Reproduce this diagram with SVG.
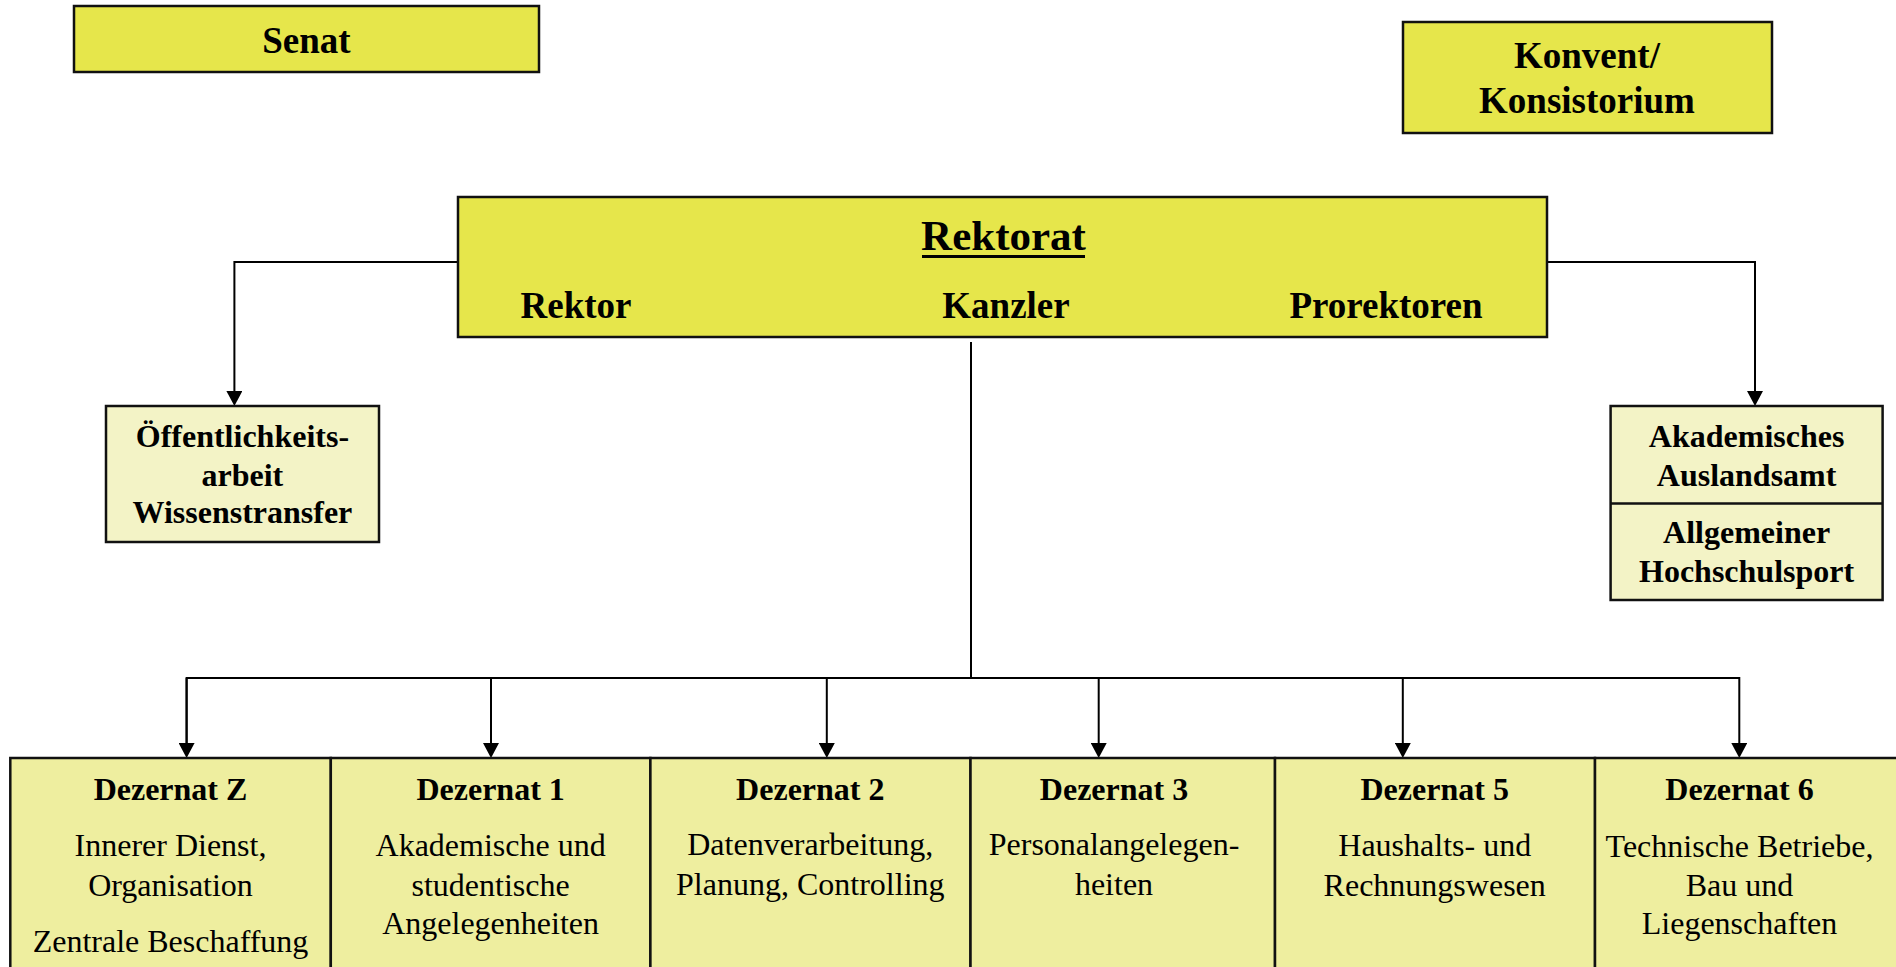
<svg xmlns="http://www.w3.org/2000/svg" width="1896" height="967" viewBox="0 0 1896 967">
<style>
.top{fill:#E6E64B;stroke:#111;stroke-width:2.5}
.light{fill:#F3F3C6;stroke:#111;stroke-width:2.5}
.dez{fill:#EEEE9F;stroke:#111;stroke-width:2.5}
text{font-family:"Liberation Serif","Times New Roman",serif;fill:#000;text-anchor:middle}
.b37{font-size:37px;font-weight:bold}
.b43{font-size:43px;font-weight:bold}
.b32{font-size:32px;font-weight:bold}
.r32{font-size:32px}
.con{fill:none;stroke:#000;stroke-width:2}
</style>
<defs>
<marker id="arr" markerWidth="16" markerHeight="16" refX="0" refY="8" orient="auto" markerUnits="userSpaceOnUse">
<path d="M0,0 L15,8 L0,16 z" fill="#000"/>
</marker>
</defs>
<rect width="1896" height="967" fill="#fff"/>
<g id="connectors">
<path class="con" d="M458,262 H234.4 V391" marker-end="url(#arr)"/>
<path class="con" d="M1547,262 H1755 V391" marker-end="url(#arr)"/>
<path class="con" d="M971,342 V678"/>
<path class="con" d="M186.6,743 V678 H1739.3 V743" marker-end="url(#arr)"/>
<path class="con" d="M186.6,678 V743" marker-end="url(#arr)"/>
<path class="con" d="M491,678 V743" marker-end="url(#arr)"/>
<path class="con" d="M826.8,678 V743" marker-end="url(#arr)"/>
<path class="con" d="M1098.7,678 V743" marker-end="url(#arr)"/>
<path class="con" d="M1402.8,678 V743" marker-end="url(#arr)"/>
</g>
<g id="senat">
<rect class="top" x="74" y="6" width="465" height="66"/>
<text class="b37" x="306.5" y="53">Senat</text>
</g>
<g id="konvent">
<rect class="top" x="1403" y="22" width="369" height="111"/>
<text class="b37" x="1587" y="68">Konvent/</text>
<text class="b37" x="1587" y="113">Konsistorium</text>
</g>
<g id="rektorat">
<rect class="top" x="458" y="197" width="1089" height="140"/>
<text class="b43" x="1003.5" y="250">Rektorat</text>
<line x1="922" y1="256.5" x2="1085" y2="256.5" stroke="#000" stroke-width="3"/>
<text class="b37" x="576" y="318">Rektor</text>
<text class="b37" x="1006" y="318">Kanzler</text>
<text class="b37" x="1386" y="318">Prorektoren</text>
</g>
<g id="oeffentlichkeit">
<rect class="light" x="106" y="406" width="273" height="136"/>
<text class="b32" x="242.4" y="447">Öffentlichkeits-</text>
<text class="b32" x="242.4" y="485.6">arbeit</text>
<text class="b32" x="242.4" y="523.4">Wissenstransfer</text>
</g>
<g id="auslandsamt">
<rect class="light" x="1610.6" y="406" width="272" height="194"/>
<line x1="1610.6" y1="503.6" x2="1882.6" y2="503.6" stroke="#111" stroke-width="2.5"/>
<text class="b32" x="1746.6" y="447">Akademisches</text>
<text class="b32" x="1746.6" y="485.6">Auslandsamt</text>
<text class="b32" x="1746.6" y="543">Allgemeiner</text>
<text class="b32" x="1746.6" y="581.5">Hochschulsport</text>
</g>
<g id="dezernat-z">
<rect class="dez" x="10.3" y="758" width="320.5" height="230"/>
<text class="b32" x="170.5" y="800">Dezernat Z</text>
<text class="r32" x="170.5" y="856.4">Innerer Dienst,</text>
<text class="r32" x="170.5" y="896">Organisation</text>
<text class="r32" x="170.5" y="952">Zentrale Beschaffung</text>
</g>
<g id="dezernat-1">
<rect class="dez" x="330.8" y="758" width="319.6" height="230"/>
<text class="b32" x="490.6" y="800">Dezernat 1</text>
<text class="r32" x="490.6" y="856">Akademische und</text>
<text class="r32" x="490.6" y="896">studentische</text>
<text class="r32" x="490.6" y="933.6">Angelegenheiten</text>
</g>
<g id="dezernat-2">
<rect class="dez" x="650.4" y="758" width="320.1" height="230"/>
<text class="b32" x="810.3" y="800">Dezernat 2</text>
<text class="r32" x="810.3" y="855">Datenverarbeitung,</text>
<text class="r32" x="810.3" y="895">Planung, Controlling</text>
</g>
<g id="dezernat-3">
<rect class="dez" x="970.5" y="758" width="304.5" height="230"/>
<text class="b32" x="1114" y="800">Dezernat 3</text>
<text class="r32" x="1114" y="855">Personalangelegen-</text>
<text class="r32" x="1114" y="895">heiten</text>
</g>
<g id="dezernat-5">
<rect class="dez" x="1275" y="758" width="320" height="230"/>
<text class="b32" x="1434.7" y="800">Dezernat 5</text>
<text class="r32" x="1434.7" y="856">Haushalts- und</text>
<text class="r32" x="1434.7" y="896">Rechnungswesen</text>
</g>
<g id="dezernat-6">
<rect class="dez" x="1595" y="758" width="320" height="230"/>
<text class="b32" x="1739.5" y="800">Dezernat 6</text>
<text class="r32" x="1739.5" y="856.5">Technische Betriebe,</text>
<text class="r32" x="1739.5" y="896">Bau und</text>
<text class="r32" x="1739.5" y="933.5">Liegenschaften</text>
</g>
</svg>
